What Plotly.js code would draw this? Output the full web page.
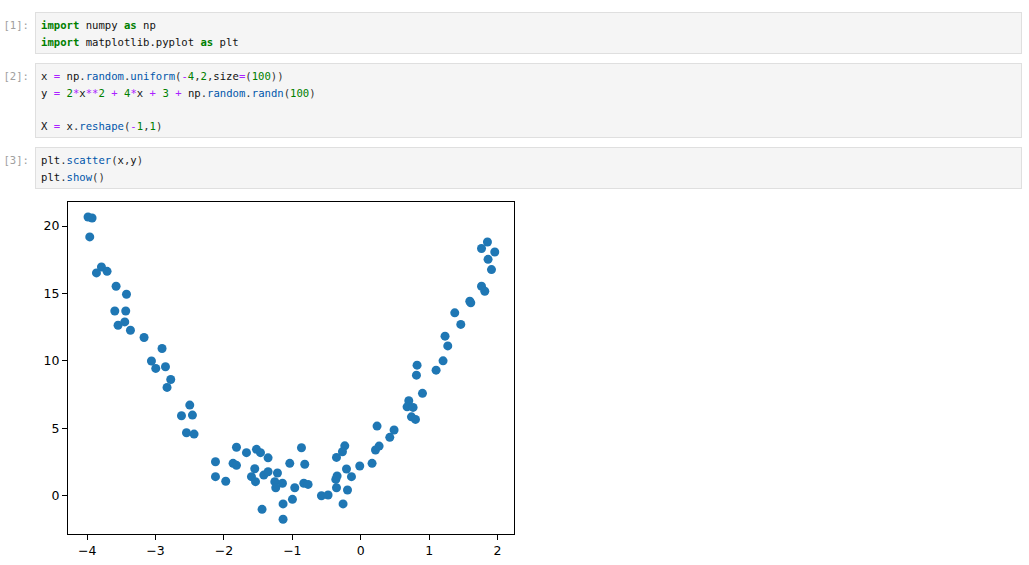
<!DOCTYPE html>
<html>
<head>
<meta charset="utf-8">
<script src="https://cdn.plot.ly/plotly-3.0.1.min.js"></script>
<style>
  html, body { margin: 0; padding: 0; background: #ffffff; width: 1029px; height: 565px; overflow: hidden; }
  .prompt { position: absolute; left: 0; width: 29px; text-align: right; color: #a0a0a0;
            font-family: "DejaVu Sans Mono", "Liberation Mono", monospace; font-size: 10.6px; line-height: 16.5px; }
  .cell { position: absolute; left: 35px; width: 987px; box-sizing: border-box; background: #f5f5f5;
          border: 1px solid #dfdfdf; padding: 4px 5px; }
  .code { font-family: "DejaVu Sans Mono", "Liberation Mono", monospace; font-size: 10.6px; line-height: 16.5px;
          color: #111; white-space: pre; }
  .kw { color: #008000; font-weight: bold; }
  .op { color: #aa22ff; }
  .nu { color: #008000; }
  .pr { color: #0055aa; }
  .pu { color: #333; }
  #plot { position: absolute; left: 0; top: 190px; width: 540px; height: 375px; }
</style>
</head>
<body>
<div class="prompt" style="top:17px">[1]:</div>
<div class="cell" style="top:12px;height:42px"><div class="code"><span class="kw">import</span> numpy <span class="kw">as</span> np
<span class="kw">import</span> matplotlib.pyplot <span class="kw">as</span> plt</div></div>

<div class="prompt" style="top:68px">[2]:</div>
<div class="cell" style="top:63px;height:75px"><div class="code">x <span class="op">=</span> np<span class="pu">.</span><span class="pr">random</span><span class="pu">.</span><span class="pr">uniform</span><span class="pu">(</span><span class="op">-</span><span class="nu">4</span><span class="pu">,</span><span class="nu">2</span><span class="pu">,</span>size<span class="op">=</span><span class="pu">(</span><span class="nu">100</span><span class="pu">))</span>
y <span class="op">=</span> <span class="nu">2</span><span class="op">*</span>x<span class="op">**</span><span class="nu">2</span> <span class="op">+</span> <span class="nu">4</span><span class="op">*</span>x <span class="op">+</span> <span class="nu">3</span> <span class="op">+</span> np<span class="pu">.</span><span class="pr">random</span><span class="pu">.</span><span class="pr">randn</span><span class="pu">(</span><span class="nu">100</span><span class="pu">)</span>

X <span class="op">=</span> x<span class="pu">.</span><span class="pr">reshape</span><span class="pu">(</span><span class="op">-</span><span class="nu">1</span><span class="pu">,</span><span class="nu">1</span><span class="pu">)</span></div></div>

<div class="prompt" style="top:152px">[3]:</div>
<div class="cell" style="top:147px;height:42px"><div class="code">plt<span class="pu">.</span><span class="pr">scatter</span><span class="pu">(</span>x<span class="pu">,</span>y<span class="pu">)</span>
plt<span class="pu">.</span><span class="pr">show</span><span class="pu">()</span></div></div>

<div id="plot"></div>

<script>
const xs = [-3.987, -3.928, -3.962, -3.791, -3.864, -3.709, -3.577, -3.425, -3.596, -3.436,
            -3.450, -3.548, -3.367, -3.168, -2.905, -3.060, -2.997, -2.855, -2.778, -2.832,
            -2.500, -2.621, -2.461, -2.548, -2.437, -1.817, -1.671, -1.525, -1.466, -1.355,
            -0.867, -2.124, -1.867, -1.817, -1.550, -1.038, -0.819, -2.124, -1.974, -1.598,
            -1.539, -1.418, -1.355, -1.218, -1.257, -1.145, -1.243, -0.965, -0.833, -0.770,
            -0.999, -1.136, -1.443, -1.136, 0.238, 0.487, 0.424, -0.234, -0.268, -0.355,
            0.268, 0.215, -0.015, 0.165, -0.209, -0.136, -0.365, -0.346, -0.355, -0.194,
            -0.575, -0.478, -0.259, 1.462, 1.232, 1.272, 1.203, 1.101, 0.823, 0.814,
            0.902, 0.702, 0.677, 0.765, 0.741, 0.800, 1.852, 1.765, 1.959, 1.861,
            1.911, 1.765, 1.813, 1.594, 1.608, 1.374];
const ys = [20.67, 20.59, 19.19, 16.96, 16.52, 16.64, 15.53, 14.94, 13.70, 13.70,
            12.89, 12.64, 12.27, 11.73, 10.92, 9.99, 9.44, 9.56, 8.62, 8.03,
            6.72, 5.93, 5.98, 4.67, 4.57, 3.59, 3.19, 3.44, 3.19, 2.81,
            3.56, 2.52, 2.40, 2.25, 2.00, 2.40, 2.33, 1.41, 1.07, 1.41,
            1.04, 1.53, 1.78, 1.68, 1.04, 0.92, 0.59, 0.59, 0.92, 0.84,
            -0.27, -0.61, -1.01, -1.75, 5.16, 4.87, 4.33, 3.70, 3.26, 2.84,
            3.68, 3.39, 2.20, 2.40, 1.98, 1.41, 1.21, 1.46, 0.59, 0.42,
            0.00, 0.05, -0.61, 12.70, 11.83, 11.11, 10.00, 9.31, 9.68, 8.94,
            7.59, 7.04, 6.59, 6.55, 5.85, 5.66, 18.81, 18.33, 18.07, 17.53,
            16.77, 15.53, 15.16, 14.42, 14.30, 13.56];
const xTicks = [-4, -3, -2, -1, 0, 1, 2];
const xTickText = ['\u22124', '\u22123', '\u22122', '\u22121', '0', '1', '2'];
const yTicks = [0, 5, 10, 15, 20];
const yTickText = ['0', '5', '10', '15', '20'];

const axisCommon = {
  showgrid: false, zeroline: false, showline: true, mirror: true,
  linecolor: '#000', linewidth: 1, ticks: 'outside', ticklen: 5, tickwidth: 1,
  tickcolor: '#000', tickfont: {family: 'DejaVu Sans', size: 12.5, color: '#000'},
  tickmode: 'array', fixedrange: true
};

Plotly.newPlot('plot', [{
  type: 'scatter', mode: 'markers', x: xs, y: ys,
  marker: {size: 9, color: '#1f77b4', line: {width: 0}}
}], {
  width: 540, height: 375,
  margin: {l: 68, r: 26, t: 12, b: 31},
  paper_bgcolor: 'rgba(0,0,0,0)', plot_bgcolor: '#fff',
  showlegend: false,
  xaxis: Object.assign({}, axisCommon, {range: [-4.28, 2.24], tickvals: xTicks, ticktext: xTickText}),
  yaxis: Object.assign({}, axisCommon, {range: [-2.84, 21.78], tickvals: yTicks, ticktext: yTickText})
}, {displayModeBar: false, staticPlot: true});
</script>
</body>
</html>
